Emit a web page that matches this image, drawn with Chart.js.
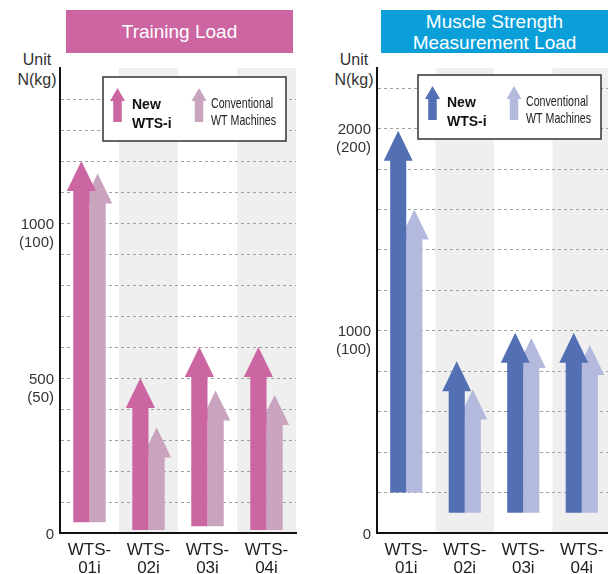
<!DOCTYPE html>
<html>
<head>
<meta charset="utf-8">
<script src="https://cdn.jsdelivr.net/npm/chart.js@4.4.0/dist/chart.umd.min.js"></script>
<style>
  html, body { margin: 0; padding: 0; background: #fff; overflow: hidden; width: 608px; height: 574px; }
  body { position: relative; font-family: "Liberation Sans", Arial, sans-serif; }
  .banner { position: absolute; top: 10px; height: 43px; color: #fff; font-size: 19px; line-height: 21px;
            display: flex; align-items: center; justify-content: center; text-align: center; }
  .unit { position: absolute; top: 50px; width: 60px; text-align: center; font-size: 16px; line-height: 20px; color: #333; }
  canvas { position: absolute; top: 0; }
</style>
</head>
<body>
<div class="banner" style="left:66px;width:227px;background:#cc65a2;">Training Load</div>
<div class="banner" style="left:381px;width:227px;background:#0b9fda;">Muscle Strength<br>Measurement Load</div>
<div class="unit" style="left:7px;">Unit<br>N(kg)</div>
<div class="unit" style="left:324px;">Unit<br>N(kg)</div>
<canvas id="load" width="300" height="574" style="left:0"></canvas>
<canvas id="strength" width="308" height="574" style="left:304px"></canvas>

<script>
// categories and legend names
const categories = [['WTS-', '01i'], ['WTS-', '02i'], ['WTS-', '03i'], ['WTS-', '04i']];
const seriesNames = [['New', 'WTS-i'], ['Conventional', 'WT Machines']];

// Training Load: [start, tip] of each arrow
const loadNew = [[35, 1200], [10, 500], [22, 600], [10, 600]];
const loadConv = [[35, 1160], [10, 340], [22, 460], [10, 445]];
const loadGrid = [0, 100, 200, 300, 400, 500, 600, 700, 800, 900, 1000, 1100, 1200, 1300, 1400];
const loadTicks = [0, 500, 1000];
const loadTickText = [['0', ''], ['500', '(50)'], ['1000', '(100)']];

// Muscle Strength Measurement Load
const strengthNew = [[200, 1990], [100, 850], [100, 990], [100, 990]];
const strengthConv = [[200, 1600], [100, 710], [100, 965], [100, 930]];
const strengthGrid = [0, 200, 400, 600, 800, 1000, 1200, 1400, 1600, 1800, 2000, 2200];
const strengthTicks = [0, 1000, 2000];
const strengthTickText = [['0', ''], ['1000', '(100)'], ['2000', '(200)']];

const FONT = '"Liberation Sans", Arial, sans-serif';

function arrowPath(ctx, cx, tipY, baseY, shaftW, headW, headH) {
    ctx.beginPath();
    ctx.moveTo(cx - shaftW / 2, baseY);
    ctx.lineTo(cx - shaftW / 2, tipY + headH);
    ctx.lineTo(cx - headW / 2, tipY + headH);
    ctx.lineTo(cx, tipY);
    ctx.lineTo(cx + headW / 2, tipY + headH);
    ctx.lineTo(cx + shaftW / 2, tipY + headH);
    ctx.lineTo(cx + shaftW / 2, baseY);
    ctx.closePath();
}

const arrowPlugin = {
    id: 'arrows',
    beforeDraw(chart) {
        // grey band behind every second category
        const { ctx, chartArea, scales: { x } } = chart;
        const w = x.width / chart.data.labels.length;
        ctx.save();
        ctx.fillStyle = '#efefef';
        chart.data.labels.forEach((l, i) => {
            if (i % 2 === 1) {
                const px = x.getPixelForValue(i);
                ctx.fillRect(px - w / 2, chartArea.top, w, chartArea.bottom - chartArea.top);
            }
        });
        ctx.restore();
    },
    afterDatasetsDraw(chart) {
        const ctx = chart.ctx;
        ctx.save();
        // conventional first so the new arrow sits on top
        [1, 0].forEach(di => {
            const meta = chart.getDatasetMeta(di);
            ctx.fillStyle = chart.data.datasets[di].arrowColor;
            meta.data.forEach(bar => {
                const p = bar.getProps(['x', 'y', 'base', 'width'], true);
                arrowPath(ctx, p.x, p.y, p.base, p.width, p.width * 1.8, 30);
                ctx.fill();
            });
        });
        ctx.restore();
    },
    afterDraw(chart, args, opts) {
        const { ctx, chartArea } = chart;
        const left = chartArea.left + opts.dx, top = chartArea.top + opts.dy;
        ctx.save();
        ctx.fillStyle = '#fff';
        ctx.fillRect(left, top, 183, 64);
        ctx.strokeStyle = '#333';
        ctx.lineWidth = 1.5;
        ctx.strokeRect(left, top, 183, 64);

        const ds = chart.data.datasets;
        ctx.fillStyle = ds[0].arrowColor;
        arrowPath(ctx, left + 14.5, top + 11, top + 45, 8.5, 15, 13);
        ctx.fill();
        ctx.fillStyle = ds[1].arrowColor;
        arrowPath(ctx, left + 96, top + 11, top + 45, 8.5, 15, 13);
        ctx.fill();

        ctx.textBaseline = 'middle';
        ctx.textAlign = 'left';
        ctx.fillStyle = '#111';
        ctx.font = 'bold 14px ' + FONT;
        ctx.fillText(seriesNames[0][0], left + 29, top + 28.5);
        ctx.fillText(seriesNames[0][1], left + 29, top + 47);

        ctx.translate(left + 108, 0);
        ctx.scale(0.71, 1);
        ctx.fillStyle = '#222';
        ctx.font = '15px ' + FONT;
        ctx.fillText(seriesNames[1][0], 0, top + 27);
        ctx.fillText(seriesNames[1][1], 0, top + 44);
        ctx.restore();
    }
};

function makeChart(id, newVals, convVals, colors, max, grid, tickVals, tickText, axisW, padRight, legend) {
    return new Chart(document.getElementById(id), {
        type: 'bar',
        data: {
            labels: categories,
            datasets: [
                { label: seriesNames[0].join(' '), data: newVals, arrowColor: colors[0] },
                { label: seriesNames[1].join(' '), data: convVals, arrowColor: colors[1] }
            ]
        },
        options: {
            responsive: false,
            animation: false,
            events: [],
            backgroundColor: 'rgba(0,0,0,0)',
            categoryPercentage: 0.55,
            barPercentage: 1,
            layout: { padding: { top: 68, right: padRight, left: 0, bottom: 0 } },
            plugins: {
                legend: { display: false },
                tooltip: { enabled: false },
                arrows: legend
            },
            scales: {
                x: {
                    grid: { display: false, drawTicks: false },
                    border: { display: true, color: '#111', width: 2 },
                    ticks: { color: '#222', font: { family: FONT, size: 17, lineHeight: 1.06 }, padding: 8.5, maxRotation: 0, autoSkip: false },
                    afterFit: s => { s.height = 41; }
                },
                y: {
                    min: 0,
                    max: max,
                    afterBuildTicks: s => { s.ticks = grid.map(v => ({ value: v })); },
                    afterFit: s => { s.width = axisW; },
                    grid: { color: '#a0a0a0', lineWidth: 1, drawTicks: false },
                    border: { display: true, color: '#111', width: 2, dash: [3, 3] },
                    ticks: {
                        autoSkip: false,
                        padding: 6,
                        labelOffset: 10.5,
                        color: '#333',
                        font: { family: FONT, size: 15 },
                        callback: v => {
                            const i = tickVals.indexOf(v);
                            return i < 0 ? '' : tickText[i];
                        }
                    }
                }
            }
        },
        plugins: [arrowPlugin]
    });
}

makeChart('load', loadNew, loadConv, ['#cc66a2', '#c9a4be'], 1500, loadGrid, loadTicks, loadTickText,
    60, 4, { dx: 43, dy: 9 });
makeChart('strength', strengthNew, strengthConv, ['#5470b5', '#b4b9de'], 2300, strengthGrid, strengthTicks, strengthTickText,
    73, 0, { dx: 41, dy: 7 });
</script>
</body>
</html>
